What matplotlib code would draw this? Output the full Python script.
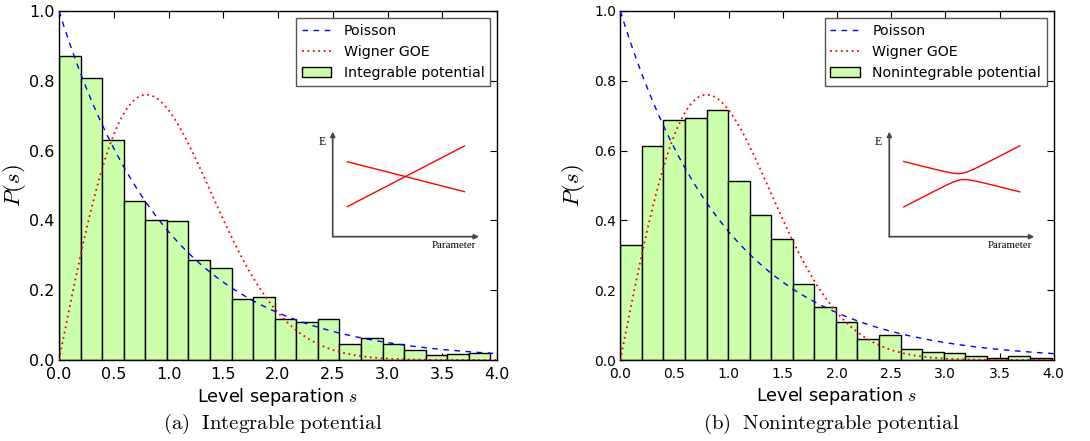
import numpy as np
import matplotlib
matplotlib.use('Agg')
import matplotlib.pyplot as plt

plt.rcParams['mathtext.fontset'] = 'cm'
plt.rcParams['font.family'] = 'DejaVu Sans'

# histogram data (normalised level spacing distributions), 20 bins each
edges_int = np.linspace(0.0, 3.94, 21)
heights_int = [0.872, 0.807, 0.629, 0.457, 0.402, 0.397, 0.286, 0.265, 0.174, 0.181,
               0.118, 0.110, 0.117, 0.045, 0.064, 0.045, 0.030, 0.014, 0.016, 0.019]

edges_non = np.linspace(0.0, 3.98, 21)
heights_non = [0.330, 0.614, 0.687, 0.692, 0.715, 0.512, 0.415, 0.348, 0.217, 0.153,
               0.110, 0.060, 0.071, 0.032, 0.022, 0.019, 0.011, 0.005, 0.011, 0.007]

hist_labels = ['Integrable potential', 'Nonintegrable potential']
captions = [r'$\mathrm{(a)\ \ Integrable\ potential}$', r'$\mathrm{(b)\ \ Nonintegrable\ potential}$']

# inset: two diabatic levels (start, end) vs parameter
inset_x = [0.10, 0.90]
level1 = [0.714, 0.429]
level2 = [0.286, 0.864]
coupling = [0.0, 0.03]

s = np.linspace(0, 4, 400)
poisson = np.exp(-s)
wigner = np.pi / 2 * s * np.exp(-np.pi * s ** 2 / 4)

fig = plt.figure(figsize=(10.9, 4.41), dpi=100)
ax_pos = [[59 / 1090, 81 / 441, 438 / 1090, 349 / 441],
          [620.3 / 1090, 81 / 441, 433.4 / 1090, 349 / 441]]
inset_pos = [[332.7 / 1090, (441 - 236.7) / 441, 146.3 / 1090, 105 / 441],
             [889.3 / 1090, (441 - 236.7) / 441, 145 / 1090, 105 / 441]]
tick_size = [11.5, 10]
ylabel_pad = [1, 5]

data = [(edges_int, heights_int), (edges_non, heights_non)]

for i in range(2):
    ax = fig.add_axes(ax_pos[i])
    edges, heights = data[i]
    widths = np.diff(edges)
    ax.plot(s, poisson, color='b', linestyle=(0, (4, 4)), lw=1, label='Poisson', zorder=3)
    ax.plot(s, wigner, color='r', linestyle=(0, (1, 2)), lw=1.3, label='Wigner GOE', zorder=3)
    ax.bar(edges[:-1], heights, width=widths, align='edge', color='#ccffaa',
           edgecolor='black', linewidth=1.0, label=hist_labels[i], zorder=2)
    ax.set_xlim(0, 4)
    ax.set_ylim(0, 1)
    ax.set_xticks(np.arange(0, 4.01, 0.5))
    ax.set_yticks(np.arange(0, 1.01, 0.2))
    ax.set_xticklabels(['%.1f' % v for v in np.arange(0, 4.01, 0.5)])
    ax.set_yticklabels(['%.1f' % v for v in np.arange(0, 1.01, 0.2)])
    ax.tick_params(direction='in', top=True, right=True, labelsize=tick_size[i], length=5)
    ax.tick_params(axis='x', pad=5)
    ax.tick_params(axis='y', pad=3)
    for sp in ax.spines.values():
        sp.set_linewidth(1.0)
    ax.set_xlabel(r'Level separation $s$', fontsize=12.7, labelpad=3)
    ax.set_ylabel(r'$P(s)$', fontsize=16.5, labelpad=ylabel_pad[i])
    leg = ax.legend(loc='upper right', fontsize=10.2, fancybox=False, framealpha=1,
                    handlelength=2.1, handletextpad=0.85, borderaxespad=0.5,
                    labelspacing=0.5)
    leg.get_frame().set_edgecolor('#555555')
    leg.get_frame().set_linewidth(1.0)
    fig.text(ax_pos[i][0] + ax_pos[i][2] / 2 - 0.005, 17 / 441, captions[i],
             ha='center', va='center', fontsize=15)

    # inset sketch
    ins = fig.add_axes(inset_pos[i])
    ins.set_xlim(0, 1)
    ins.set_ylim(0, 1)
    ins.axis('off')
    ins.annotate('', xy=(1.0, 0), xytext=(0, 0),
                 arrowprops=dict(arrowstyle='-|>', color='#444444', lw=1.2,
                                 mutation_scale=7, shrinkA=0, shrinkB=0))
    ins.annotate('', xy=(0, 1.0), xytext=(0, 0),
                 arrowprops=dict(arrowstyle='-|>', color='#444444', lw=1.2,
                                 mutation_scale=7, shrinkA=0, shrinkB=0))
    ins.text(-0.05, 0.9, 'E', ha='right', va='center', fontsize=8.5, family='Liberation Serif')
    ins.text(0.83, -0.08, 'Parameter', ha='center', va='center', fontsize=7.8,
             family='Liberation Serif')
    t = np.linspace(inset_x[0], inset_x[1], 200)
    frac = (t - inset_x[0]) / (inset_x[1] - inset_x[0])
    e1 = level1[0] + (level1[1] - level1[0]) * frac
    e2 = level2[0] + (level2[1] - level2[0]) * frac
    mid = (e1 + e2) / 2
    half = np.sqrt(((e1 - e2) / 2) ** 2 + coupling[i] ** 2)
    ins.plot(t, mid + half, color='r', lw=1.0, clip_on=False)
    ins.plot(t, mid - half, color='r', lw=1.0, clip_on=False)

fig.savefig('out.png', dpi=100)
